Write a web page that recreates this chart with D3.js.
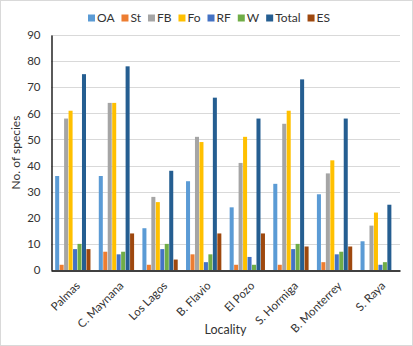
<!DOCTYPE html>
<html>
<head>
<meta charset="utf-8">
<script src="https://cdn.jsdelivr.net/npm/d3@7"></script>
<style>
  body { margin: 0; background: #fff; }
  svg { display: block; font-family: Lato, "Open Sans", sans-serif; }
</style>
</head>
<body>
<svg></svg>
<script>
const w = 413, h = 346;
const m = { left: 51, right: 13, top: 35, bottom: 76 };

// data
const localities = ['Palmas', 'C. Maynana', 'Los Lagos', 'B. Flavio', 'El Pozo', 'S. Hormiga', 'B. Monterrey', 'S. Raya'];
const series = ['OA', 'St', 'FB', 'Fo', 'RF', 'W', 'Total', 'ES'];
const OA    = [36, 36, 16, 34, 24, 33, 29, 11];
const St    = [2, 7, 2, 6, 2, 2, 3, 0];
const FB    = [58, 64, 28, 51, 41, 56, 37, 17];
const Fo    = [61, 64, 26, 49, 51, 61, 42, 22];
const RF    = [8, 6, 8, 3, 5, 8, 6, 2];
const W     = [10, 7, 10, 6, 2, 10, 7, 3];
const Total = [75, 78, 38, 66, 58, 73, 58, 25];
const ES    = [8, 14, 4, 14, 14, 9, 9, 0];
const yTicks = [0, 10, 20, 30, 40, 50, 60, 70, 80, 90];
const colors = ['#5B9BD5', '#ED7D31', '#A5A5A5', '#FFC000', '#4472C4', '#70AD47', '#255E91', '#9E480E'];

const values = { OA, St, FB, Fo, RF, W, Total, ES };

const svg = d3.select('svg')
  .attr('width', w)
  .attr('height', h)

svg.append('rect')
  .attr('x', 0.5).attr('y', 0.5)
  .attr('width', w - 1).attr('height', h - 1)
  .attr('fill', '#fff')
  .attr('stroke', '#d9d9d9')

// Scales
const x0 = d3.scaleBand()
  .domain(localities)
  .range([m.left, w - m.right])
  .paddingInner(0.17)
  .paddingOuter(0.085)

const x1 = d3.scaleBand()
  .domain(series)
  .range([0, x0.bandwidth()])
  .padding(0.1)

const y = d3.scaleLinear()
  .domain([0, 90])
  .range([h - m.bottom, m.top])

// gridlines
svg.append('g')
  .selectAll('line')
  .data(yTicks.slice(1))
  .enter()
  .append('line')
  .attr('x1', m.left)
  .attr('x2', w - m.right)
  .attr('y1', d => Math.round(y(d)) + 0.5)
  .attr('y2', d => Math.round(y(d)) + 0.5)
  .attr('stroke', '#d9d9d9')

// bars
const groups = svg.append('g')
  .selectAll('g')
  .data(localities)
  .enter()
  .append('g')
  .attr('transform', d => 'translate(' + x0(d) + ',0)')

groups.selectAll('rect')
  .data((d, i) => series.map(s => ({ s: s, v: values[s][i] })))
  .enter()
  .append('rect')
  .attr('x', d => x1(d.s))
  .attr('width', x1.bandwidth())
  .attr('y', d => y(d.v))
  .attr('height', d => y(0) - y(d.v))
  .attr('fill', (d, i) => colors[i])

// Axes
const yAxis = d3.axisLeft(y)
  .tickValues(yTicks)
  .tickSize(0)
  .tickPadding(11)

svg.append('g')
  .attr('transform', 'translate(' + (m.left + 0.5) + ',0)')
  .call(yAxis)
  .call(g => g.select('.domain').attr('stroke', '#000').attr('stroke-width', 1.3))
  .call(g => g.selectAll('text').attr('font-size', '11.5px').attr('fill', '#333').attr('font-family', 'Lato, sans-serif'))

const xAxis = d3.axisBottom(x0)
  .tickSize(0)

svg.append('g')
  .attr('transform', 'translate(0,' + (y(0) + 0.5) + ')')
  .call(xAxis)
  .call(g => g.select('.domain').attr('stroke', '#000').attr('stroke-width', 1.5))
  .call(g => g.selectAll('text')
    .attr('font-size', '11.5px')
    .attr('fill', '#333')
    .attr('font-family', 'Lato, sans-serif')
    .attr('text-anchor', 'end')
    .attr('dy', '0.35em')
    .attr('transform', 'translate(3,11) rotate(-45)'))

// axis titles
svg.append('text')
  .attr('transform', 'translate(20,' + ((m.top + h - m.bottom) / 2) + ') rotate(-90)')
  .attr('text-anchor', 'middle')
  .attr('font-size', '12px')
  .attr('fill', '#333')
  .text('No. of species')

svg.append('text')
  .attr('x', (m.left + w - m.right) / 2)
  .attr('y', 334)
  .attr('text-anchor', 'middle')
  .attr('font-size', '12.5px')
  .attr('fill', '#333')
  .text('Locality')

// Legend
const legend = svg.append('g').attr('transform', 'translate(88,0)')
const items = series.map((s, i) => {
  const item = legend.append('g')
  item.append('rect')
    .attr('x', 0).attr('y', 14.5)
    .attr('width', 7).attr('height', 7)
    .attr('fill', colors[i])
  const t = item.append('text')
    .attr('x', 9).attr('y', 22)
    .attr('font-size', '12px')
    .attr('fill', '#333')
    .text(s)
  return { item, len: 9 + t.node().getComputedTextLength() }
})
const totalLen = d3.sum(items, d => d.len)
const gap = (242 - totalLen) / (items.length - 1)
let lx = 0
items.forEach(d => {
  d.item.attr('transform', 'translate(' + lx + ',0)')
  lx += d.len + gap
})
</script>
</body>
</html>
